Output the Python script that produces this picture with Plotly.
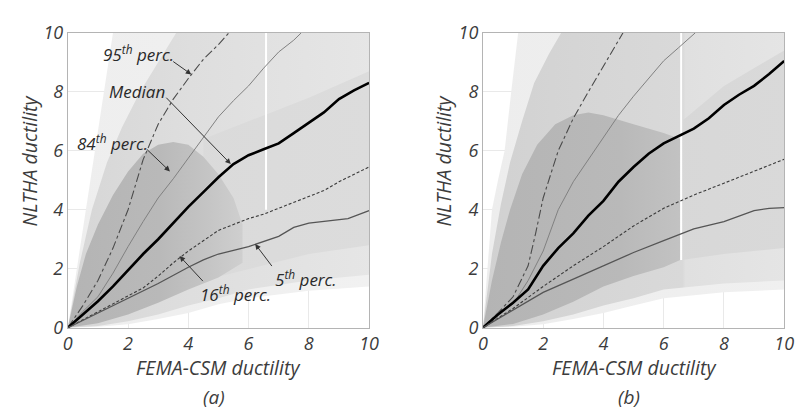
import plotly.graph_objects as go

# ---------------- data ----------------
# Panel (a)
p95_a_x = [0, 0.5, 1, 1.5, 2, 2.5, 3, 3.5, 4, 4.5, 5, 5.35]
p95_a_y = [0, 0.75, 1.6, 2.7, 4.0, 5.7, 6.9, 7.75, 8.45, 9.1, 9.6, 10]
p84_a_x = [0, 0.5, 1, 1.5, 2, 2.5, 3, 3.5, 4, 4.5, 5, 5.5, 6, 6.5, 7, 7.5, 7.75]
p84_a_y = [0, 0.55, 1.05, 1.85, 2.75, 3.6, 4.4, 5.05, 5.75, 6.45, 7.15, 7.7, 8.2, 8.8, 9.35, 9.75, 10]
p50_a_x = [0, 0.5, 1, 1.5, 2, 2.5, 3, 3.5, 4, 4.5, 5, 5.5, 6, 6.5, 7, 7.5, 8, 8.5, 9, 9.5, 10]
p50_a_y = [0, 0.45, 0.9, 1.4, 1.95, 2.5, 3.0, 3.55, 4.1, 4.6, 5.1, 5.55, 5.85, 6.05, 6.25, 6.6, 6.95, 7.3, 7.75, 8.05, 8.3]
p16_a_x = [0, 1, 2, 2.5, 3, 3.5, 4, 4.5, 5, 5.5, 6, 6.5, 7, 7.5, 8, 8.5, 9, 9.5, 10]
p16_a_y = [0, 0.55, 1.1, 1.35, 1.75, 2.2, 2.6, 2.95, 3.3, 3.5, 3.7, 3.85, 4.05, 4.25, 4.45, 4.65, 4.95, 5.2, 5.45]
p05_a_x = [0, 1, 2, 3, 4, 4.5, 5, 6, 7, 7.5, 8, 9, 9.3, 10]
p05_a_y = [0, 0.5, 1.0, 1.5, 2.05, 2.3, 2.5, 2.75, 3.1, 3.4, 3.55, 3.65, 3.7, 3.97]

# Panel (b)
p95_b_x = [0, 0.5, 1, 1.5, 1.75, 2, 2.5, 3, 3.5, 4, 4.5, 4.65]
p95_b_y = [0, 0.5, 1.05, 2.1, 3.2, 4.4, 6.0, 7.1, 8.0, 8.85, 9.7, 10]
p84_b_x = [0, 0.5, 1, 1.5, 2, 2.5, 3, 3.5, 4, 4.5, 5, 5.5, 6, 6.5, 7, 7.05]
p84_b_y = [0, 0.5, 0.8, 1.6, 2.6, 4.0, 4.95, 5.7, 6.45, 7.2, 7.85, 8.45, 9.05, 9.5, 9.95, 10]
p50_b_x = [0, 0.5, 1, 1.5, 2, 2.5, 3, 3.5, 4, 4.5, 5, 5.5, 6, 6.5, 7, 7.5, 8, 8.5, 9, 9.5, 10]
p50_b_y = [0, 0.45, 0.85, 1.3, 2.1, 2.7, 3.2, 3.8, 4.3, 4.95, 5.45, 5.9, 6.25, 6.5, 6.75, 7.1, 7.55, 7.9, 8.2, 8.6, 9.04]
p16_b_x = [0, 1, 2, 3, 4, 5, 6, 7, 8, 9, 10]
p16_b_y = [0, 0.65, 1.4, 2.1, 2.75, 3.45, 4.05, 4.5, 4.9, 5.3, 5.71]
p05_b_x = [0, 1, 2, 3, 4, 5, 6, 7, 8, 9, 9.5, 10]
p05_b_y = [0, 0.6, 1.2, 1.65, 2.1, 2.55, 2.95, 3.35, 3.6, 3.97, 4.05, 4.07]

# Scatter-cloud outlines (estimated extents of sparse / medium / dense parts of the clouds)
env_a_x = [0, 0.3, 0.6, 0.9, 1.2, 1.5, 10, 10, 8, 6, 5, 4, 3, 2, 1, 0]
env_a_y = [0, 2, 4, 6, 8, 10, 10, 1.4, 1.25, 1.0, 0.8, 0.5, 0.3, 0.12, 0.03, 0]
mid_a_x = [0, 0.4, 0.8, 1.3, 1.8, 2.4, 3.0, 3.6, 10, 10, 8, 6, 5, 4, 3, 2, 1, 0]
mid_a_y = [0, 2.2, 4.0, 5.6, 6.8, 8.0, 9.0, 10, 10, 1.8, 1.6, 1.3, 1.0, 0.75, 0.45, 0.22, 0.06, 0]
band_a_x = [4.5, 6, 8, 10, 10, 8, 6, 4.5]
band_a_y = [6.4, 7.0, 7.8, 8.7, 2.8, 2.5, 2.0, 1.6]
core_a_x = [0, 0.3, 0.6, 1, 1.5, 2, 2.5, 3, 3.5, 4, 4.5, 5, 5.5, 5.8, 5.8, 5, 4, 3, 2, 1, 0]
core_a_y = [0, 1.4, 2.5, 3.5, 4.5, 5.3, 5.9, 6.2, 6.3, 6.2, 5.8, 5.2, 4.4, 3.5, 2.2, 1.7, 1.3, 0.85, 0.45, 0.15, 0]

env_b_x = [0, 0.3, 0.5, 0.72, 0.94, 1.17, 10, 10, 8, 6, 5, 4, 3, 2, 1, 0]
env_b_y = [0, 4, 5, 6, 8, 10, 10, 1.3, 1.2, 1.0, 0.75, 0.5, 0.3, 0.12, 0.03, 0]
mid_b_x = [0, 0.3, 0.6, 0.9, 1.3, 1.7, 2.2, 2.6, 10, 10, 8, 6, 5, 4, 3, 2, 1, 0]
mid_b_y = [0, 2.5, 4.2, 5.6, 7.0, 8.3, 9.3, 10, 10, 1.6, 1.5, 1.3, 1.0, 0.75, 0.45, 0.22, 0.06, 0]
band_b_x = [6.6, 8, 10, 10, 8, 6.6]
band_b_y = [7.0, 8.2, 9.4, 2.7, 2.5, 2.3]
core_b_x = [0, 0.3, 0.6, 0.9, 1.3, 1.8, 2.4, 3, 3.5, 4, 5, 6, 6.55, 6.55, 6, 5, 4, 3, 2, 1, 0]
core_b_y = [0, 1.6, 2.9, 4.0, 5.2, 6.2, 6.9, 7.2, 7.3, 7.2, 6.9, 6.6, 6.4, 2.3, 2.05, 1.75, 1.4, 0.88, 0.45, 0.13, 0]

gap_x = 6.58          # data gap (white vertical stripe)
gap_a_y = [4.0, 10]
gap_b_y = [2.3, 10]

tick_vals = [0, 2, 4, 6, 8, 10]
x_title = "FEMA-CSM ductility"
y_title = "NLTHA ductility"
panel_labels = ["(a)", "(b)"]

# ---------------- figure ----------------
W, H = 804, 416
FONT = "Open Sans"
TXT = "#3c3c3c"

fig = go.Figure()

def grad_fill(xs, ys, xa, ya, scale):
    fig.add_trace(go.Scatter(
        x=xs, y=ys, mode="lines", fill="toself", line=dict(width=0),
        fillgradient=dict(type="horizontal", start=0, stop=10, colorscale=scale),
        xaxis=xa, yaxis=ya, hoverinfo="skip", showlegend=False))

def add_panel(xa, ya, polys, scales, lines, gap_y):
    for (px, py), sc in zip(polys, scales):
        grad_fill(px, py, xa, ya, sc)
    fig.add_trace(go.Scatter(x=[gap_x, gap_x], y=gap_y, mode="lines",
                             line=dict(color="white", width=2.0),
                             xaxis=xa, yaxis=ya, hoverinfo="skip", showlegend=False))
    styles = [
        dict(color="#4a4a4a", width=1.1, dash="dashdot"),   # 95th
        dict(color="#808080", width=1.0),                   # 84th
        dict(color="#000000", width=2.6),                   # median
        dict(color="#3a3a3a", width=1.1, dash="3px,2px"),   # 16th
        dict(color="#555555", width=1.3),                   # 5th
    ]
    for (lx, ly), st in zip(lines, styles):
        fig.add_trace(go.Scatter(x=lx, y=ly, mode="lines", line=st,
                                 xaxis=xa, yaxis=ya, hoverinfo="skip", showlegend=False))

scales_a = [
    [[0, "#eeeeee"], [1, "#f1f1f1"]],
    [[0, "#d6d6d6"], [0.4, "#dedede"], [1, "#e6e6e6"]],
    [[0, "#d9d9d9"], [1, "#dcdcdc"]],
    [[0, "#b4b4b4"], [0.3, "#b9b9b9"], [0.45, "#c4c4c4"], [0.58, "#d0d0d0"], [1, "#d6d6d6"]],
]
scales_b = [
    [[0, "#ededed"], [1, "#f0f0f0"]],
    [[0, "#d1d1d1"], [0.3, "#d5d5d5"], [0.65, "#d9d9d9"], [0.66, "#e0e0e0"], [1, "#e5e5e5"]],
    [[0, "#d5d5d5"], [1, "#d9d9d9"]],
    [[0, "#b4b4b4"], [0.45, "#b9b9b9"], [0.66, "#c3c3c3"], [1, "#c8c8c8"]],
]

add_panel("x", "y",
          [(env_a_x, env_a_y), (mid_a_x, mid_a_y), (band_a_x, band_a_y), (core_a_x, core_a_y)],
          scales_a,
          [(p95_a_x, p95_a_y), (p84_a_x, p84_a_y), (p50_a_x, p50_a_y),
           (p16_a_x, p16_a_y), (p05_a_x, p05_a_y)], gap_a_y)
add_panel("x2", "y2",
          [(env_b_x, env_b_y), (mid_b_x, mid_b_y), (band_b_x, band_b_y), (core_b_x, core_b_y)],
          scales_b,
          [(p95_b_x, p95_b_y), (p84_b_x, p84_b_y), (p50_b_x, p50_b_y),
           (p16_b_x, p16_b_y), (p05_b_x, p05_b_y)], gap_b_y)

yb, yt = (H - 334) / H, (H - 21) / H
dom_a = [64 / W, 371 / W]
dom_b = [487 / W, 794 / W]

axis_common = dict(range=[0, 10], tickvals=tick_vals, showgrid=True, gridcolor="#e9e9e9",
                   gridwidth=1, zeroline=False, showline=True, linecolor="#b4b4b4",
                   linewidth=1, mirror=True, ticks="",
                   tickfont=dict(family=FONT, size=18, color=TXT, style="italic"))

fig.update_layout(
    width=W, height=H, margin=dict(l=0, r=0, t=0, b=0),
    paper_bgcolor="white", plot_bgcolor="white", showlegend=False,
    xaxis=dict(domain=dom_a, anchor="y", **axis_common),
    yaxis=dict(domain=[yb, yt], anchor="x", **axis_common),
    xaxis2=dict(domain=dom_b, anchor="y2", **axis_common),
    yaxis2=dict(domain=[yb, yt], anchor="x2", **axis_common),
)

ann = []
title_font = dict(family=FONT, size=19.5, color=TXT, style="italic")
for dom, lab, ytx in [(dom_a, panel_labels[0], 25), (dom_b, panel_labels[1], 447)]:
    cx = (dom[0] + dom[1]) / 2
    ann.append(dict(x=cx, y=(H - 376) / H, xref="paper", yref="paper", text=x_title,
                    showarrow=False, xanchor="center", yanchor="middle", font=title_font))
    ann.append(dict(x=ytx / W, y=(H - 157) / H, xref="paper", yref="paper", text=y_title,
                    showarrow=False, textangle=-90, xanchor="center", yanchor="middle",
                    font=title_font))
    ann.append(dict(x=cx - 5 / W, y=(H - 407) / H, xref="paper", yref="paper", text=lab,
                    showarrow=False, xanchor="center", yanchor="middle",
                    font=dict(family=FONT, size=19, color=TXT, style="italic")))

lab_font = dict(family=FONT, size=17, color="#2a2a2a", style="italic")
labels_a = [
    ("95<sup>th</sup> perc.", 2.35, 9.29, 4.10, 8.59, 3.45, 9.06),
    ("Median", 2.31, 8.01, 5.41, 5.55, 3.22, 7.85),
    ("84<sup>th</sup> perc.", 1.50, 6.29, 3.39, 5.30, 2.57, 6.10),
    ("16<sup>th</sup> perc.", 5.57, 1.15, 3.71, 2.43, 4.53, 1.53),
    ("5<sup>th</sup> perc.", 7.92, 1.66, 6.22, 2.84, 6.81, 2.04),
]
for txt, tx, ty, hx, hy, sx, sy in labels_a:
    ann.append(dict(x=tx, y=ty, xref="x", yref="y", text=txt, showarrow=False,
                    xanchor="center", yanchor="middle", font=lab_font))
    ann.append(dict(x=hx, y=hy, ax=sx, ay=sy, xref="x", yref="y", axref="x", ayref="y",
                    text="", showarrow=True, arrowhead=2, arrowsize=1.1, arrowwidth=1,
                    arrowcolor="#333333", standoff=0, startstandoff=0))
fig.update_layout(annotations=ann)

fig.write_html("out.html")
